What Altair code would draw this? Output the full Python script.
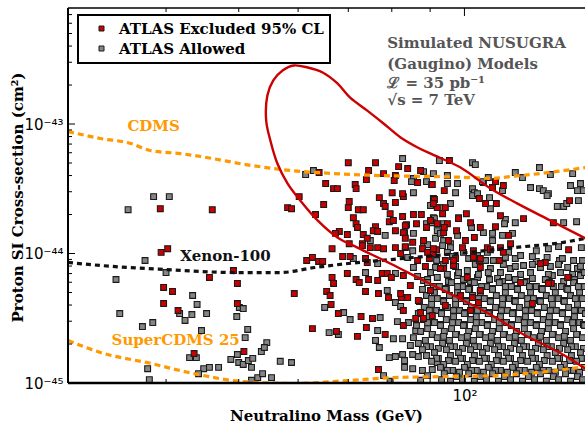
import altair as alt
import pandas as pd

# ---------------- data (mass in GeV, cross-section in units of 1e-45 cm^2) ----------------
XSEC_UNIT = 1e-45

excluded_pts = [
    (39.3, 22.2), (46.1, 21.8), (58.1, 22.6), (58.8, 22.2), (60.2, 27.5), (39.4, 10.2), (40.2, 10.9),
    (49.2, 7.39), (45.7, 6.53), (39.7, 5.47), (40.8, 5.09), (49.8, 5.87), (59.3, 4.91), (39.7, 4.11),
    (49.8, 4.11), (41.5, 3.63), (43.6, 1.69), (50.8, 1.75), (76.8, 1.27),
    (70.0, 50.3), (76.1, 50.3), (74.5, 43.7), (81.7, 46.9), (84.0, 45.3), (87.4, 43.7), (95.5, 52.2),
    (64.0, 42.2), (78.0, 41.4), (80.9, 40.0), (74.0, 37.2), (80.6, 36.6), (65.3, 34.7), (90.6, 34.1),
    (66.9, 31.7), (67.7, 31.7), (71.5, 34.1), (71.7, 31.7), (77.0, 27.0), (80.1, 29.5), (82.9, 27.5),
    (94.0, 30.6), (70.2, 25.2), (78.0, 24.3), (80.9, 24.8), (90.9, 26.6), (64.9, 23.9), (70.0, 22.6),
    (78.4, 23.1), (92.0, 22.6), (94.3, 22.6), (63.3, 20.0), (72.2, 21.8), (73.3, 21.8), (79.6, 20.3),
    (82.7, 19.3), (85.5, 20.0), (87.6, 20.0), (93.5, 20.3), (71.1, 18.9), (79.4, 17.6), (80.4, 18.0),
    (90.1, 18.0), (92.0, 17.0), (71.7, 17.0), (72.0, 15.9), (83.7, 16.7), (86.3, 17.0), (94.9, 17.0),
    (68.1, 14.8), (67.3, 14.3), (76.1, 16.1), (75.6, 15.0), (76.6, 14.8), (80.9, 15.0), (82.9, 14.5),
    (93.8, 14.5), (69.8, 14.0), (73.3, 14.0), (74.2, 13.1), (83.4, 13.1), (66.6, 10.9), (70.2, 11.9),
    (73.1, 11.9), (74.9, 11.1), (78.0, 10.9), (80.9, 11.1), (83.4, 11.1), (110.0, 35.9), (109.0, 32.3),
    (112.7, 33.5),
    (86.6, 35.3), (82.7, 29.0), (91.2, 26.1), (90.9, 24.3), (104.7, 26.6), (106.7, 24.3), (110.3, 24.3),
    (138.1, 25.6), (98.2, 18.6), (100.6, 20.3), (111.7, 19.6), (119.9, 18.6), (131.4, 17.3), (83.4, 16.4),
    (89.0, 15.9), (94.0, 15.9), (97.6, 15.0), (101.9, 17.3), (105.0, 15.9), (110.0, 16.1), (103.1, 13.3),
    (114.5, 13.8), (85.3, 12.2), (88.2, 12.6), (95.2, 12.6), (100.3, 12.6), (107.3, 11.1), (111.7, 11.1),
    (115.2, 11.9), (137.7, 10.7), (82.2, 10.0), (87.9, 10.9), (89.3, 10.2), (90.9, 10.0), (91.8, 10.7),
    (102.8, 10.5), (108.3, 10.7), (112.7, 10.2), (86.6, 8.83), (89.8, 9.15), (94.3, 8.83), (97.3, 9.15),
    (102.8, 9.32), (104.7, 8.83), (111.3, 8.83), (88.7, 7.94), (93.8, 7.66), (96.7, 8.08), (105.0, 7.80),
    (82.9, 6.76), (100.9, 6.53), (137.7, 6.53),
    (61.6, 8.83), (62.7, 9.32), (63.9, 8.68), (64.7, 8.68), (68.8, 9.48), (70.4, 9.48), (73.1, 11.5),
    (76.6, 11.1), (73.8, 9.15), (74.2, 8.52), (69.8, 7.01), (71.7, 6.30), (72.4, 5.97), (74.5, 6.30),
    (76.6, 6.19), (77.7, 7.01), (78.9, 7.01), (79.9, 6.53), (66.6, 6.53), (66.9, 5.87), (65.5, 5.09),
    (66.2, 4.74), (66.4, 4.04), (73.8, 5.09), (76.8, 4.91), (79.2, 4.57), (82.4, 4.57), (82.9, 3.63),
    (67.9, 3.44), (72.8, 3.26), (75.4, 3.15), (62.7, 2.63), (67.5, 2.50), (72.0, 2.29), (74.0, 2.68),
    (78.4, 2.37),
    (84.7, 5.66), (86.8, 4.34), (90.1, 5.18), (94.3, 3.97), (98.8, 4.74), (101.9, 3.63), (86.1, 3.15),
    (105.0, 5.18), (118.8, 5.97), (130.6, 5.87), (128.2, 8.52),
    (83.4, 11.3), (90.9, 10.9), (99.4, 11.1), (96.7, 8.83), (92.9, 7.66), (105.0, 9.15), (82.2, 4.91),
    (84.0, 4.57), (87.4, 3.50), (90.6, 3.32), (88.2, 3.15), (82.9, 2.78), (102.5, 4.57), (104.4, 4.18),
    (126.3, 8.37), (137.3, 6.53), (129.4, 5.87), (123.2, 4.11),
]

allowed_pts = [
    (35.6, 21.8), (38.5, 27.5), (40.4, 27.5), (37.5, 8.83), (40.0, 7.13), (34.3, 6.30), (43.4, 4.74),
    (44.0, 4.04), (50.1, 3.83), (50.7, 3.76), (34.7, 3.44), (41.7, 3.44), (43.3, 3.38), (45.3, 3.44),
    (42.4, 3.04), (49.7, 3.26), (37.2, 2.73), (38.4, 2.93), (44.6, 2.54), (51.4, 2.59), (51.0, 2.24),
    (54.5, 2.05), (43.0, 1.57), (43.9, 1.57), (49.8, 1.66), (53.6, 1.75), (54.1, 1.88), (48.8, 1.52),
    (50.0, 1.44), (50.7, 1.39), (51.5, 1.49), (52.2, 1.55), (52.0, 1.32), (56.8, 1.47), (58.8, 1.44),
    (37.8, 1.29), (44.9, 1.29), (45.7, 1.32), (47.0, 1.32), (44.2, 1.18), (38.0, 1.06), (52.0, 1.05),
    (53.0, 1.10), (53.8, 1.18), (55.3, 1.10),
    (82.7, 54.1), (88.2, 42.9), (92.6, 52.2), (62.9, 43.7), (61.4, 40.7), (85.5, 37.9), (90.9, 41.4),
    (94.9, 40.0), (85.0, 35.9), (89.0, 35.9), (94.9, 34.7), (85.5, 29.5), (90.1, 23.5), (90.9, 18.9),
    (93.8, 17.0), (89.0, 17.0), (85.5, 14.3), (92.0, 15.0), (78.4, 13.8), (88.2, 12.2), (89.3, 11.7),
    (91.5, 13.1), (93.8, 12.6), (95.8, 11.9),
    (102.5, 50.3), (103.4, 48.6), (125.9, 46.1), (130.2, 40.7), (139.4, 41.4), (142.8, 34.7),
    (116.9, 42.2), (119.5, 38.6), (107.6, 38.6), (106.0, 35.3), (102.5, 31.7), (103.1, 29.5),
    (108.0, 27.0), (122.5, 32.3), (125.9, 31.7), (127.4, 30.6), (129.4, 29.0), (141.5, 30.6),
    (90.4, 34.1), (97.9, 34.7), (105.7, 35.9), (97.3, 29.5), (102.5, 28.0), (104.1, 29.0), (112.4, 30.6),
    (128.9, 28.0), (138.5, 33.5), (144.1, 30.6), (92.9, 22.6), (95.8, 24.3), (133.0, 23.1), (135.6, 23.1),
    (136.9, 24.3), (141.9, 25.6), (91.2, 18.6), (90.6, 17.3), (98.2, 18.9), (108.3, 22.2), (113.4, 18.3),
    (135.6, 17.3), (141.1, 17.6), (102.2, 15.9), (106.0, 14.5), (109.0, 14.3), (113.1, 17.0),
    (116.9, 17.3), (115.9, 14.3), (83.2, 14.5), (92.9, 14.3), (97.9, 13.8), (109.0, 12.6), (112.4, 13.8),
    (93.5, 11.5), (95.8, 11.1), (124.7, 10.5), (129.4, 10.9), (133.5, 11.3), (143.2, 11.1), (85.3, 10.5),
    (94.9, 10.2), (99.7, 10.2), (104.1, 9.65), (107.3, 10.2), (114.5, 10.2), (113.4, 9.32), (116.9, 9.15),
    (118.8, 9.65), (128.9, 9.32), (84.0, 9.32), (91.8, 8.83), (106.7, 8.83), (109.3, 8.83), (124.7, 8.68),
    (133.9, 8.83), (139.8, 8.83), (143.7, 8.83), (85.5, 7.80), (91.5, 7.80), (100.9, 7.39), (108.3, 7.66),
    (111.7, 7.13), (115.2, 7.66), (119.9, 8.08), (126.3, 7.80), (137.3, 7.80), (141.5, 7.66), (86.6, 6.65),
    (88.2, 6.19), (92.0, 6.53), (97.9, 6.76), (104.1, 6.53), (110.7, 6.42), (114.5, 6.53), (123.2, 6.42),
    (131.0, 6.76), (142.8, 6.76),
    (96.4, 9.48), (101.3, 9.15), (123.2, 9.48), (135.1, 9.15),
    (93.8, 8.23), (97.3, 7.94), (103.4, 8.23), (112.7, 8.23), (116.9, 7.94), (123.2, 8.23), (130.2, 7.94),
    (133.5, 8.23), (142.8, 7.94),
    (90.1, 7.13), (94.9, 6.89), (98.2, 7.13), (104.4, 6.89), (107.6, 7.13), (118.8, 6.89), (122.5, 7.13),
    (129.4, 6.89), (134.3, 7.13), (139.4, 6.89), (144.6, 7.13),
    (89.3, 6.30), (95.2, 6.08), (99.7, 6.30), (101.9, 6.08), (108.0, 6.30), (112.4, 6.08), (116.9, 6.30),
    (121.0, 6.08), (128.2, 6.30), (135.6, 6.08), (140.2, 6.30),
    (71.1, 9.15), (74.9, 12.6), (76.6, 8.37), (73.8, 7.13), (80.9, 7.01), (65.1, 3.83), (78.9, 5.18),
    (80.9, 4.18), (82.2, 3.90), (69.0, 3.50), (70.4, 3.09), (77.2, 3.20), (81.4, 2.98), (66.0, 2.45),
    (67.9, 2.37), (76.6, 2.54), (80.4, 2.20), (76.1, 2.13), (77.0, 1.88), (79.4, 1.57), (80.9, 1.60),
    (82.7, 1.66), (85.3, 1.66), (83.2, 1.32), (85.3, 1.29), (87.9, 1.25), (90.6, 1.27), (92.0, 1.44),
    (79.6, 1.03), (78.0, 1.14),
    (82.7, 2.20), (84.7, 1.95), (83.2, 1.49), (86.1, 2.54), (84.2, 2.93), (86.8, 1.60), (89.3, 1.14),
    (87.4, 1.05),
    (89.3, 5.97), (92.6, 5.56), (96.1, 5.97), (99.4, 5.56), (103.1, 5.97), (107.0, 5.56), (111.3, 5.97),
    (115.5, 5.56), (120.2, 5.97), (124.7, 5.56), (129.8, 5.97), (134.7, 5.56), (139.8, 5.97), (144.6, 5.56),
    (90.9, 5.56), (94.6, 5.37), (97.9, 5.56), (101.6, 5.37), (105.4, 5.56), (109.0, 5.37), (113.4, 5.56),
    (117.7, 5.37), (122.1, 5.56), (126.7, 5.37), (131.4, 5.56), (136.9, 5.37), (141.9, 5.56),
    (87.9, 5.28), (91.2, 5.00), (94.3, 5.28), (97.9, 5.00), (101.3, 5.28), (105.0, 5.00), (109.0, 5.28),
    (113.4, 5.00), (117.7, 5.28), (122.5, 5.00), (127.0, 5.28), (132.2, 5.00), (137.3, 5.28), (142.4, 5.00),
    (89.0, 4.74), (92.0, 4.49), (95.5, 4.74), (98.8, 4.49), (102.5, 4.74), (106.3, 4.49), (110.3, 4.74),
    (114.8, 4.49), (119.1, 4.74), (123.6, 4.49), (128.6, 4.74), (133.5, 4.49), (138.5, 4.74), (143.7, 4.49),
    (90.4, 4.49), (93.8, 4.34), (97.3, 4.49), (100.6, 4.34), (104.4, 4.49), (108.3, 4.34), (112.4, 4.49),
    (116.6, 4.34), (121.4, 4.49), (125.9, 4.34), (130.6, 4.49), (135.6, 4.34), (140.6, 4.49),
    (87.1, 4.26), (90.4, 4.04), (93.8, 4.26), (97.3, 4.04), (100.6, 4.26), (104.4, 4.04), (108.3, 4.26),
    (112.4, 4.04), (116.9, 4.26), (121.4, 4.04), (126.3, 4.26), (131.0, 4.04), (135.9, 4.26), (141.5, 4.04),
    (88.4, 3.83), (91.8, 3.63), (94.9, 3.83), (98.5, 3.63), (102.2, 3.83), (106.0, 3.63), (110.0, 3.83),
    (114.1, 3.63), (118.4, 3.83), (122.9, 3.63), (127.8, 3.83), (132.6, 3.63), (137.7, 3.83), (143.2, 3.63),
    (89.8, 3.63), (93.2, 3.50), (96.7, 3.63), (100.3, 3.50), (104.1, 3.63), (108.0, 3.50), (112.0, 3.63),
    (116.2, 3.50), (120.6, 3.63), (125.1, 3.50), (130.2, 3.63), (135.1, 3.50), (140.2, 3.63),
    (86.8, 3.44), (89.8, 3.26), (93.2, 3.44), (96.7, 3.26), (100.0, 3.44), (103.7, 3.26), (107.6, 3.44),
    (111.7, 3.26), (115.9, 3.44), (120.6, 3.26), (125.1, 3.44), (129.8, 3.26), (135.1, 3.44), (140.2, 3.26),
    (145.0, 3.44),
    (88.2, 3.09), (91.2, 2.93), (94.6, 3.09), (98.2, 2.93), (101.9, 3.09), (105.4, 2.93), (109.7, 3.09),
    (113.8, 2.93), (118.0, 3.09), (122.5, 2.93), (127.4, 3.09), (132.2, 2.93), (137.3, 3.09), (142.4, 2.93),
    (89.3, 2.93), (92.9, 2.83), (96.4, 2.93), (100.0, 2.83), (103.7, 2.93), (107.3, 2.83), (111.3, 2.93),
    (115.5, 2.83), (120.2, 2.93), (124.7, 2.83), (129.4, 2.93), (134.3, 2.83), (139.4, 2.93), (144.1, 2.83),
    (86.3, 2.78), (89.3, 2.63), (92.9, 2.78), (96.1, 2.63), (99.7, 2.78), (103.4, 2.63), (107.3, 2.78),
    (111.3, 2.63), (115.5, 2.78), (120.2, 2.63), (124.7, 2.78), (129.4, 2.63), (134.3, 2.78), (139.8, 2.63),
    (144.6, 2.78),
    (87.4, 2.50), (90.6, 2.37), (94.0, 2.50), (97.6, 2.37), (101.3, 2.50), (105.0, 2.37), (109.0, 2.50),
    (113.1, 2.37), (117.3, 2.50), (121.7, 2.37), (126.7, 2.50), (131.4, 2.37), (136.4, 2.50), (141.5, 2.37),
    (90.6, 2.37), (93.8, 2.29), (97.3, 2.37), (100.9, 2.29), (104.7, 2.37), (108.6, 2.29), (112.7, 2.37),
    (116.9, 2.29), (121.4, 2.37), (126.3, 2.29), (131.0, 2.37), (135.9, 2.29), (141.1, 2.37),
    (85.5, 2.24), (88.7, 2.13), (92.0, 2.24), (95.5, 2.13), (99.1, 2.24), (102.8, 2.13), (106.7, 2.24),
    (110.7, 2.13), (114.8, 2.24), (119.1, 2.13), (123.6, 2.24), (128.6, 2.13), (133.5, 2.24), (138.5, 2.13),
    (143.7, 2.24),
    (86.8, 2.02), (90.1, 1.91), (93.5, 2.02), (97.0, 1.91), (100.6, 2.02), (104.4, 1.91), (108.3, 2.02),
    (112.4, 1.91), (116.6, 2.02), (121.0, 1.91), (125.5, 2.02), (130.6, 1.91), (135.6, 2.02), (140.6, 1.91),
    (89.0, 1.91), (92.3, 1.85), (95.8, 1.91), (99.4, 1.85), (103.1, 1.91), (107.0, 1.85), (111.0, 1.91),
    (115.2, 1.85), (119.9, 1.91), (124.4, 1.85), (128.9, 1.91), (133.9, 1.85), (138.9, 1.91), (144.1, 1.85),
    (87.9, 1.81), (91.2, 1.72), (94.6, 1.81), (98.2, 1.72), (101.9, 1.81), (105.7, 1.72), (109.7, 1.81),
    (113.8, 1.72), (118.4, 1.81), (122.9, 1.72), (127.4, 1.81), (132.2, 1.72), (137.3, 1.81), (142.8, 1.72),
    (89.0, 1.63), (92.3, 1.55), (95.8, 1.63), (99.4, 1.55), (103.1, 1.63), (107.0, 1.55), (111.0, 1.63),
    (115.2, 1.55), (119.5, 1.63), (124.4, 1.55), (128.9, 1.63), (133.9, 1.55), (138.9, 1.63), (144.1, 1.55),
    (91.8, 1.55), (95.2, 1.49), (98.8, 1.55), (102.5, 1.49), (106.3, 1.55), (110.3, 1.49), (114.5, 1.55),
    (118.8, 1.49), (123.2, 1.55), (127.8, 1.49), (133.1, 1.55), (138.1, 1.49), (143.2, 1.55),
    (90.4, 1.47), (93.8, 1.39), (97.3, 1.47), (100.9, 1.39), (104.7, 1.47), (108.6, 1.39), (112.7, 1.47),
    (116.9, 1.39), (121.4, 1.47), (125.9, 1.39), (131.0, 1.47), (135.9, 1.39), (141.1, 1.47),
    (92.9, 1.32), (96.4, 1.25), (100.0, 1.32), (103.7, 1.25), (107.6, 1.32), (111.7, 1.25), (115.9, 1.32),
    (120.2, 1.25), (124.7, 1.32), (129.4, 1.25), (134.3, 1.32), (139.4, 1.25), (144.6, 1.32),
    (94.9, 1.25), (98.5, 1.21), (102.2, 1.25), (106.0, 1.21), (110.0, 1.25), (114.1, 1.21), (118.4, 1.25),
    (122.9, 1.21), (127.4, 1.25), (132.2, 1.21), (137.3, 1.25), (142.4, 1.21),
    (94.0, 1.18), (97.6, 1.12), (101.3, 1.18), (105.0, 1.12), (109.0, 1.18), (113.1, 1.12), (117.3, 1.18),
    (121.7, 1.12), (126.3, 1.18), (131.4, 1.12), (136.4, 1.18), (141.5, 1.12),
    (93.2, 1.06), (95.8, 1.03), (99.4, 1.06), (103.1, 1.03), (107.0, 1.06), (111.0, 1.03), (115.2, 1.06),
    (119.5, 1.03), (124.0, 1.06), (128.6, 1.03), (133.5, 1.06), (138.5, 1.03), (143.7, 1.06),
]

cdms_mass = [29.6, 32.7, 35.9, 38.1, 41.8, 44.5, 51.9, 58.6, 66.8, 77.2, 90.9, 101.9, 108.3, 115.2, 126.3, 145.0]
cdms_xsec = [87.5, 77.3, 70.8, 62.4, 59.1, 56.1, 47.9, 43.8, 41.5, 40.0, 39.3, 38.6, 38.0, 39.3, 41.5, 46.1]

xenon_mass = [29.6, 32.7, 40.0, 49.5, 56.8, 63.2, 70.0, 77.2, 85.5, 97.9, 116.2, 135.6, 145.0]
xenon_xsec = [8.53, 8.08, 7.52, 7.13, 7.13, 7.80, 8.37, 8.83, 9.31, 10.0, 11.1, 12.2, 13.1]

scdms_mass = [29.6, 32.7, 38.1, 43.6, 50.3, 59.2, 70.0, 80.3, 93.8, 109.3, 126.3, 145.0]
scdms_xsec = [2.13, 1.72, 1.42, 1.18, 1.03, 0.99, 1.045, 1.10, 1.12, 1.14, 1.21, 1.34]

atlas_mass = [145.0, 133.1, 119.9, 108.3, 97.9, 88.2, 79.6, 72.0, 67.7, 63.7, 60.4, 58.1, 56.3, 55.1,
              54.4, 54.6, 55.6, 57.2, 59.2, 61.8, 64.7, 67.7, 70.4, 74.2, 78.0, 82.2, 86.6, 90.6,
              98.8, 108.3, 117.7, 130.2, 145.0]
atlas_xsec = [1.29, 1.75, 2.37, 3.38, 4.57, 6.19, 8.37, 11.1, 13.3, 18.0, 25.7, 34.7, 49.5, 74.6,
              106, 166, 217, 259, 283, 273, 250, 206, 160, 127, 101, 78.7, 65.9, 58.2,
              46.1, 31.8, 24.3, 18.0, 13.1]

series_names = ["ATLAS Excluded 95% CL", "ATLAS Allowed"]
series_colors = ["#cc0000", "#858585"]

note_lines = ["Simulated NUSUGRA", "(Gaugino) Models", "ℒ = 35 pb⁻¹", "√s = 7 TeV"]
note_mass = [78.9, 78.9, 78.9, 78.9]
note_xsec = [419, 293, 209, 152]

curve_labels = ["CDMS", "Xenon-100", "SuperCDMS 25"]
curve_label_mass = [38.5, 48.0, 41.2]
curve_label_xsec = [97.3, 9.65, 2.13]
curve_label_colors = ["#ff9900", "#111111", "#ff9900"]

x_tick_values = [100]
x_tick_labels = ["10²"]
y_tick_values = [1e-45, 1e-44, 1e-43]
y_tick_labels = ["10⁻⁴⁵", "10⁻⁴⁴", "10⁻⁴³"]
x_minor_ticks = [40, 50, 60, 70, 80, 90]
y_minor_ticks = [m * 10.0 ** e for e in (-45, -44) for m in range(2, 10)] + [m * 1e-43 for m in range(2, 8)]

# ---------------- tables ----------------
pts = pd.DataFrame(
    [{"mass": m, "xsec": s * XSEC_UNIT, "status": series_names[1]} for m, s in allowed_pts]
    + [{"mass": m, "xsec": s * XSEC_UNIT, "status": series_names[0]} for m, s in excluded_pts]
)


def curve_df(ms, xs_):
    return pd.DataFrame({"mass": ms, "xsec": [v * XSEC_UNIT for v in xs_], "k": list(range(len(ms)))})


notes = pd.DataFrame({"text": note_lines, "mass": note_mass, "xsec": [v * XSEC_UNIT for v in note_xsec]})
clabels = pd.DataFrame({"text": curve_labels, "mass": curve_label_mass,
                        "xsec": [v * XSEC_UNIT for v in curve_label_xsec], "col": curve_label_colors})

W, H = 517, 375
xsc = alt.Scale(type="log", domain=[29.6, 144.8], nice=False)
ysc = alt.Scale(type="log", domain=[1e-45, 7.87e-43], nice=False)

SERIF = "DejaVu Serif"

y_expr = (f"datum.value < 5e-45 ? '{y_tick_labels[0]}' : "
          f"(datum.value < 5e-44 ? '{y_tick_labels[1]}' : '{y_tick_labels[2]}')")

x_axis = alt.Axis(values=x_tick_values, labelExpr=f"'{x_tick_labels[0]}'",
                  title="Neutralino Mass (GeV)", titleX=258, titleY=32,
                  titleBaseline="middle", labelPadding=5)
y_axis = alt.Axis(values=y_tick_values, labelExpr=y_expr,
                  title="Proton SI Cross-section (cm²)", titleX=-51, titleY=189,
                  titleBaseline="middle", labelPadding=5)

XE = alt.X("mass:Q", scale=xsc, axis=x_axis)
YE = alt.Y("xsec:Q", scale=ysc, axis=y_axis)

points = alt.Chart(pts).mark_square(size=34, stroke="#1a1a1a", strokeWidth=1.1, opacity=1, clip=True).encode(
    x=XE, y=YE,
    fill=alt.Fill("status:N", scale=alt.Scale(domain=series_names, range=series_colors),
                  legend=alt.Legend(title=None, orient="none", legendX=10, legendY=7)),
)


def line_layer(df, color, dash=None, width=3.0, interp="linear"):
    kw = dict(color=color, strokeWidth=width, clip=True, interpolate=interp)
    if dash:
        kw["strokeDash"] = dash
    return alt.Chart(df).mark_line(**kw).encode(x=XE, y=YE, order="k:Q")


cdms = line_layer(curve_df(cdms_mass, cdms_xsec), "#ff9900", [6, 4], 3.2, "monotone")
xenon = line_layer(curve_df(xenon_mass, xenon_xsec), "#111111", [5, 4], 3.2, "monotone")
scdms = line_layer(curve_df(scdms_mass, scdms_xsec), "#ff9900", [6, 4], 3.2, "monotone")
atlas = line_layer(curve_df(atlas_mass, atlas_xsec), "#cc0000", None, 2.4, "catmull-rom")

note_layer = alt.Chart(notes).mark_text(align="left", baseline="middle", font=SERIF, fontWeight="bold",
                                        fontSize=15, color="#555555").encode(x=XE, y=YE, text="text:N")

label_layer = alt.Chart(clabels).mark_text(align="center", baseline="middle", font=SERIF,
                                           fontWeight="bold", fontSize=15).encode(
    x=XE, y=YE, text="text:N", color=alt.Color("col:N", scale=None),
)

# inward ticks
ymin_df = pd.DataFrame({"xsec": y_minor_ticks})
ymaj_df = pd.DataFrame({"xsec": y_tick_values})
xmin_df = pd.DataFrame({"mass": x_minor_ticks})
xmaj_df = pd.DataFrame({"mass": x_tick_values})


def ytick(df, length):
    return alt.Chart(df).mark_rule(color="black", strokeWidth=1).encode(
        y=YE, x=alt.value(0), x2=alt.value(length))


def xtick(df, y0, y1):
    return alt.Chart(df).mark_rule(color="black", strokeWidth=1).encode(
        x=XE, y=alt.value(y0), y2=alt.value(y1))


ticks = [ytick(ymin_df, 4), ytick(ymaj_df, 7),
         xtick(xmin_df, 0, 4), xtick(xmaj_df, 0, 8),
         xtick(xmin_df, H, H - 4), xtick(xmaj_df, H, H - 8)]

one = pd.DataFrame({"a": [0]})
left_border = alt.Chart(one).mark_rule(color="black", strokeWidth=2).encode(
    x=alt.value(0), y=alt.value(0), y2=alt.value(H))
top_border = alt.Chart(one).mark_rule(color="black", strokeWidth=1.6).encode(
    x=alt.value(0), x2=alt.value(W + 5), y=alt.value(0))
bottom_border = alt.Chart(one).mark_rule(color="black", strokeWidth=2.6).encode(
    x=alt.value(0), x2=alt.value(W + 5), y=alt.value(H))

chart = alt.layer(
    points, cdms, xenon, scdms, atlas, note_layer, label_layer, *ticks,
    left_border, top_border, bottom_border,
).properties(
    width=W, height=H,
    padding={"left": 68, "top": 8, "right": 0, "bottom": 40},
    autosize=alt.AutoSizeParams(type="none"),
    background="white",
).configure_view(stroke=None).configure_axis(
    domain=False, ticks=False, grid=False,
    labelFont="DejaVu Sans", labelFontSize=15, labelColor="black",
    titleFont=SERIF, titleFontWeight="bold", titleFontSize=15, titleColor="black",
).configure_legend(
    strokeColor="black", strokeWidth=2, fillColor="white", padding=6,
    labelFont=SERIF, labelFontWeight="bold", labelFontSize=15, labelColor="black", labelLimit=0,
    symbolType="square", symbolSize=25, symbolStrokeColor="#1a1a1a", symbolStrokeWidth=1,
    symbolOffset=10, labelOffset=10, rowPadding=4,
)

chart.save("out.html", embed_options={"renderer": "svg", "actions": False})
